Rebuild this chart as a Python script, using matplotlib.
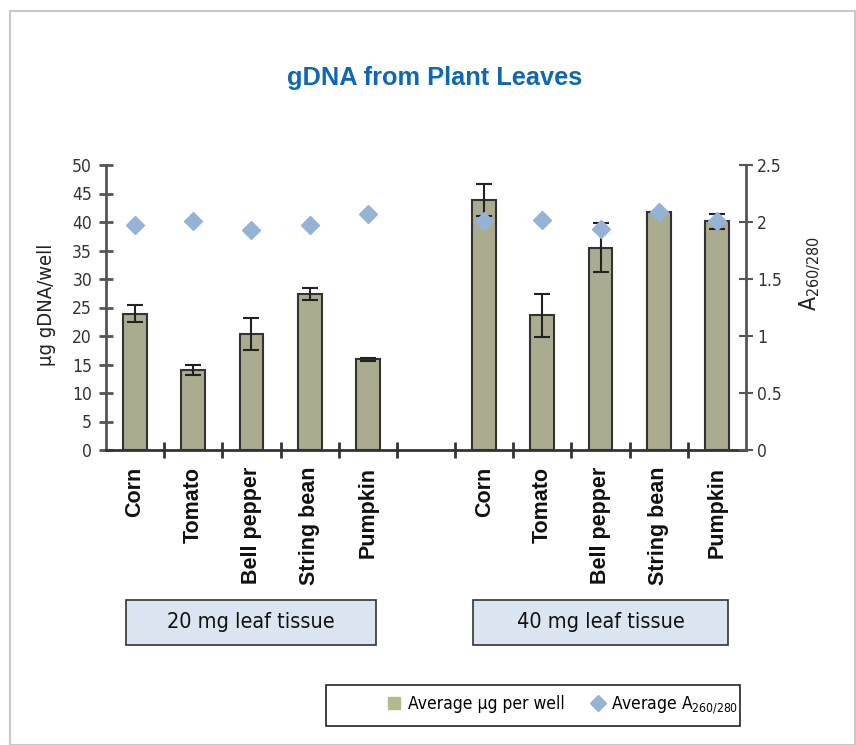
import numpy as np
import matplotlib
matplotlib.use("Agg")
import matplotlib.pyplot as plt
from matplotlib.patches import Rectangle
from matplotlib.lines import Line2D

# data
plants = ["Corn", "Tomato", "Bell pepper", "String bean", "Pumpkin"]
ug_20mg = [23.9, 14.1, 20.4, 27.4, 15.9]
err_20mg = [1.5, 0.9, 2.8, 1.1, 0.2]
ratio_20mg = [1.97, 2.01, 1.93, 1.97, 2.07]
ug_40mg = [43.9, 23.6, 35.5, 41.7, 40.1]
err_40mg = [2.8, 3.8, 4.3, 0.0, 1.3]
ratio_40mg = [2.01, 2.02, 1.94, 2.09, 2.01]
groups = ["20 mg leaf tissue", "40 mg leaf tissue"]

NARROW = dict(family="DejaVu Sans", stretch="condensed")
bold = ["Liberation Sans", "DejaVu Sans"]

W, H = 856, 745


def fx(px):
    return px / W


def fy(py):
    return 1 - py / H


fig = plt.figure(figsize=(W / 100, H / 100), dpi=100)

# outer frame
fig.patches.append(Rectangle((fx(10), fy(745)), fx(855) - fx(10), fy(11) - fy(745),
                             transform=fig.transFigure, fill=False,
                             edgecolor="#c8c8c8", linewidth=1.5))

ax = fig.add_axes([fx(106), fy(450), fx(746) - fx(106), fy(165) - fy(450)])
ax2 = ax.twinx()

# positions: two groups of five with an empty slot between
pos1 = np.arange(5)
pos2 = np.arange(6, 11)
positions = np.concatenate([pos1, pos2])
values = ug_20mg + ug_40mg
errors = err_20mg + err_40mg
ratios = ratio_20mg + ratio_40mg
labels = plants + plants

ax.bar(positions, values, width=0.41, color="#abab8f", edgecolor="#333333",
       linewidth=1.5, zorder=2)
ax.errorbar(positions, values, yerr=errors, fmt="none", ecolor="#222222",
            elinewidth=1.5, capsize=5.5, capthick=1.5, zorder=3)
ax2.plot(positions, ratios, linestyle="none", marker="D", markersize=9,
         color="#95b3d7", zorder=4)

ax.set_xlim(-0.5, 10.5)
ax.set_ylim(0, 50)
ax2.set_ylim(0, 2.5)

ax.set_yticks(np.arange(0, 51, 5))
ax2.set_yticks([0, 0.5, 1, 1.5, 2, 2.5])
ax2.set_yticklabels(["0", "0.5", "1", "1.5", "2", "2.5"])
ax.set_xticks(np.arange(0.5, 10, 1))
ax.set_xticklabels([])

for a in (ax, ax2):
    a.set_facecolor("none")
    a.spines["top"].set_visible(False)
    for s in ("left", "right", "bottom"):
        a.spines[s].set_color("#555555")
        a.spines[s].set_linewidth(2)
ax.spines["right"].set_visible(False)
ax2.spines["left"].set_visible(False)
ax2.spines["bottom"].set_visible(False)
ax.spines["bottom"].set_color("#333333")

ax.tick_params(axis="y", direction="inout", length=10, width=2, color="#555555",
               labelsize=12.5, labelcolor="#333333", pad=5)
ax.tick_params(axis="x", direction="inout", length=12, width=2, color="#333333")
ax2.tick_params(axis="y", direction="inout", length=10, width=1.5, color="#555555",
                labelsize=12.5, labelcolor="#333333", pad=3)
for t in ax.get_yticklabels() + ax2.get_yticklabels():
    t.set_family(NARROW["family"])
    t.set_stretch(NARROW["stretch"])

# rotated category labels
for p, lab in zip(positions, labels):
    ax.text(p, -2.9, lab, rotation=90, ha="center", va="top", fontsize=15.5,
            fontweight="bold", family=bold, color="#111111")

fig.text(fx(46), fy(305), "µg gDNA/well", rotation=90, ha="center", va="center",
         fontsize=14.5, color="#222222", **NARROW)
fig.text(fx(810), fy(274), r"A$_{\mathregular{260/280}}$", rotation=90,
         ha="center", va="center", fontsize=16.5, color="#222222", **NARROW)

fig.text(fx(435), fy(78), "gDNA from Plant Leaves", ha="center", va="center",
         fontsize=18.3, fontweight="bold", family=bold, color="#1068b4")

# group boxes under the categories
for name, (x0, x1) in zip(groups, [(126, 376), (473, 728)]):
    fig.patches.append(Rectangle((fx(x0), fy(645)), fx(x1) - fx(x0), fy(600) - fy(645),
                                 transform=fig.transFigure, facecolor="#dbe5f1",
                                 edgecolor="#333333", linewidth=1.2))
    fig.text(fx((x0 + x1) / 2), fy(622), name, ha="center", va="center",
             fontsize=15.5, color="#111111", **NARROW)

# legend box
fig.patches.append(Rectangle((fx(326), fy(726)), fx(740) - fx(326), fy(685) - fy(726),
                             transform=fig.transFigure, fill=False,
                             edgecolor="#222222", linewidth=1.2))
handles = [Line2D([], [], linestyle="none", marker="s", markersize=9, color="#b3b98d"),
           Line2D([], [], linestyle="none", marker="D", markersize=8, color="#95b3d7")]
fig.legend(handles, ["Average µg per well", r"Average A$_{\mathregular{260/280}}$"],
           loc="center", bbox_to_anchor=(fx(562), fy(705)), ncol=2, frameon=False,
           prop={"size": 12.5, **NARROW}, handletextpad=0.3,
           columnspacing=1.4, handlelength=1.0)

fig.savefig("out.png", dpi=100)
